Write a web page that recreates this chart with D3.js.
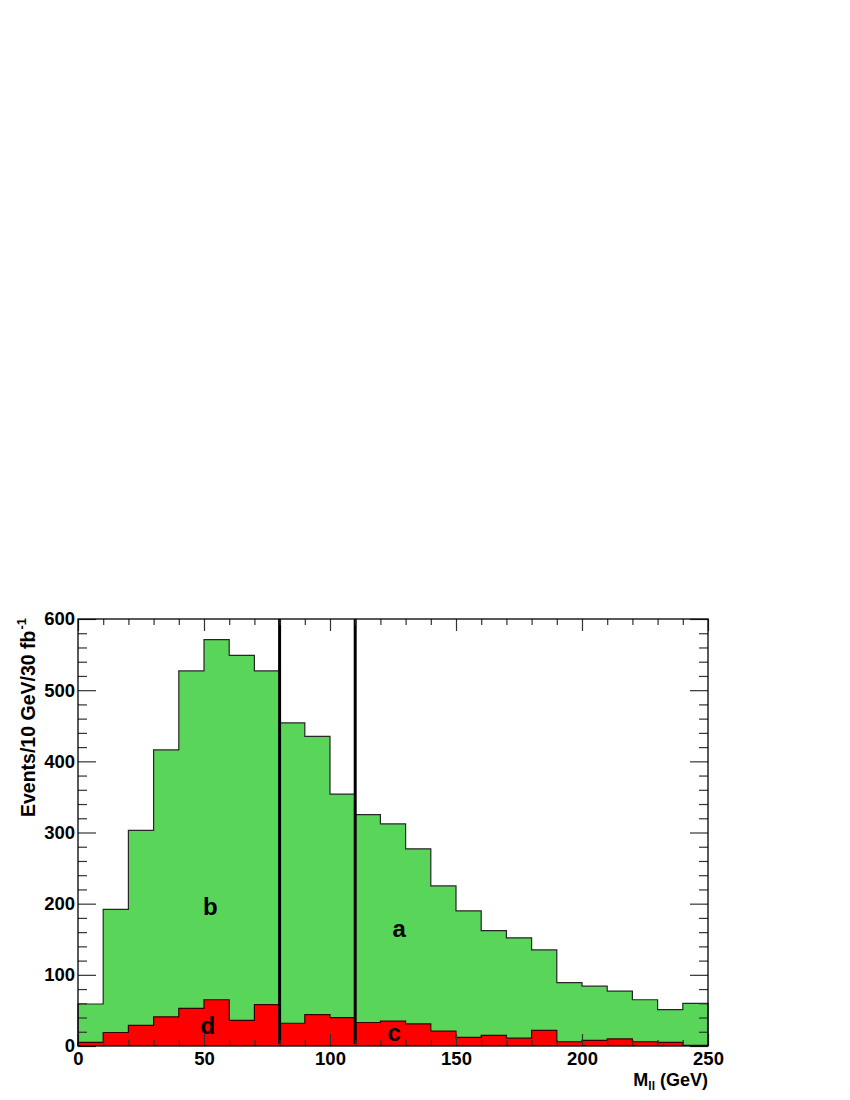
<!DOCTYPE html>
<html>
<head>
<meta charset="utf-8">
<script src="https://cdn.jsdelivr.net/npm/d3@7"></script>
<style>
  body { margin: 0; background: #fff; }
  svg { display: block; }
  text { font-family: "Liberation Sans", Arial, Helvetica, sans-serif; font-weight: bold; }
</style>
</head>
<body>
<svg id="chart" width="850" height="1100"></svg>
<script>
// ---- data ----
const binLow = [0,10,20,30,40,50,60,70,80,90,100,110,120,130,140,150,160,170,180,190,200,210,220,230,240];
const binWidth = 10;
const totalEvents = [59,192,303,416,527,571,549,527,454,435,354,325,312,277,225,190,162,152,135,89,84,77,65,51,60];
const redEvents   = [5,19,29,41,53,65,36,58,32,44,40,33,35,31,21,12,15,11,22,6,8,10,6,5,1];
const cutLines = [80, 110];
const xMajorTicks = [0,50,100,150,200,250];
const yMajorTicks = [0,100,200,300,400,500,600];
const regionLabels = [
  {t:"b", x:52.5, y:184},
  {t:"a", x:127.5, y:153},
  {t:"d", x:51.5, y:16.5},
  {t:"c", x:125.5, y:7.5}
];
const xTitle = "M";
const xTitleSub = "ll";
const xTitleRest = " (GeV)";
const yTitle = "Events/10 GeV/30 fb";
const yTitleSup = "-1";

// ---- layout ----
const L = 78, R = 708, T = 619, B = 1046;
const svg = d3.select("#chart");
const x = d3.scaleLinear().domain([0,250]).range([L,R]);
const y = d3.scaleLinear().domain([0,600]).range([B,T]);

function pts(vals) {
  const p = binLow.map((lo,i)=>({x:lo, y:vals[i]}));
  p.push({x: binLow[binLow.length-1]+binWidth, y: vals[vals.length-1]});
  return p;
}
function outline(vals) {
  const p = [{x:0,y:0}].concat(pts(vals));
  p.push({x: binLow[binLow.length-1]+binWidth, y:0});
  return p;
}
const area = d3.area().x(d=>x(d.x)).y0(y(0)).y1(d=>y(d.y)).curve(d3.curveStepAfter);
const line = d3.line().x(d=>x(d.x)).y(d=>y(d.y)).curve(d3.curveStepAfter);

// green (total)
svg.append("path").attr("d", area(pts(totalEvents))).attr("fill", "#59d659");
svg.append("path").attr("d", line(outline(totalEvents))).attr("fill","none").attr("stroke","#262626").attr("stroke-width",1.2);
// red
svg.append("path").attr("d", area(pts(redEvents))).attr("fill", "#ff0000");
svg.append("path").attr("d", line(outline(redEvents))).attr("fill","none").attr("stroke","#3a0000").attr("stroke-width",1.2);

// cut lines
svg.selectAll("line.cut").data(cutLines).enter().append("line")
  .attr("x1", d=>x(d)).attr("x2", d=>x(d))
  .attr("y1", y(600)).attr("y2", y(3))
  .attr("stroke","#000").attr("stroke-width",3);

// region labels
svg.selectAll("text.reg").data(regionLabels).enter().append("text")
  .attr("x", d=>x(d.x)).attr("y", d=>y(d.y))
  .attr("text-anchor","middle").attr("font-size", 24).attr("fill","#000")
  .text(d=>d.t);

// axes
const tickColor = "#333";
function styleAxis(g, showLabels) {
  g.select(".domain").remove();
  g.selectAll(".tick line").attr("stroke", tickColor).attr("stroke-width", 1.2);
  if (!showLabels) g.selectAll(".tick text").remove();
  else g.selectAll(".tick text").attr("font-size", 18.5).attr("fill","#000")
        .attr("font-family", '"Liberation Sans", Arial, sans-serif').attr("font-weight","bold");
}
const xMinor = d3.range(0, 251, 10).filter(v => v % 50 !== 0);
const yMinor = d3.range(0, 601, 20).filter(v => v % 100 !== 0);

// bottom
svg.append("g").attr("transform",`translate(0,${B})`)
  .call(d3.axisBottom(x).tickValues(xMajorTicks).tickSize(-12).tickPadding(6).tickFormat(d3.format("d")))
  .call(g=>styleAxis(g,true));
svg.append("g").attr("transform",`translate(0,${B})`)
  .call(d3.axisBottom(x).tickValues(xMinor).tickSize(-6))
  .call(g=>styleAxis(g,false));
// top
svg.append("g").attr("transform",`translate(0,${T})`)
  .call(d3.axisTop(x).tickValues(xMajorTicks).tickSize(-12))
  .call(g=>styleAxis(g,false));
svg.append("g").attr("transform",`translate(0,${T})`)
  .call(d3.axisTop(x).tickValues(xMinor).tickSize(-6))
  .call(g=>styleAxis(g,false));
// left
svg.append("g").attr("transform",`translate(${L},0)`)
  .call(d3.axisLeft(y).tickValues(yMajorTicks).tickSize(-18).tickPadding(3).tickFormat(d3.format("d")))
  .call(g=>styleAxis(g,true));
svg.append("g").attr("transform",`translate(${L},0)`)
  .call(d3.axisLeft(y).tickValues(yMinor).tickSize(-9))
  .call(g=>styleAxis(g,false));
// right
svg.append("g").attr("transform",`translate(${R},0)`)
  .call(d3.axisRight(y).tickValues(yMajorTicks).tickSize(-18))
  .call(g=>styleAxis(g,false));
svg.append("g").attr("transform",`translate(${R},0)`)
  .call(d3.axisRight(y).tickValues(yMinor).tickSize(-9))
  .call(g=>styleAxis(g,false));

// frame
svg.append("rect").attr("x",L).attr("y",T).attr("width",R-L).attr("height",B-T)
  .attr("fill","none").attr("stroke","#000").attr("stroke-width",1.3);

// x title
const xt = svg.append("text").attr("x", R).attr("y", 1086).attr("text-anchor","end")
  .attr("font-size",18).attr("fill","#000");
xt.append("tspan").text(xTitle);
xt.append("tspan").attr("font-size",12).attr("dy",4).text(xTitleSub);
xt.append("tspan").attr("dy",-4).text(xTitleRest);

// y title
const yt = svg.append("text").attr("transform","translate(35,817) rotate(-90)")
  .attr("text-anchor","start").attr("font-size",19.5).attr("fill","#000");
yt.append("tspan").text(yTitle);
yt.append("tspan").attr("font-size",13).attr("dy",-9).attr("dx",1).text(yTitleSup);
</script>
</body>
</html>
